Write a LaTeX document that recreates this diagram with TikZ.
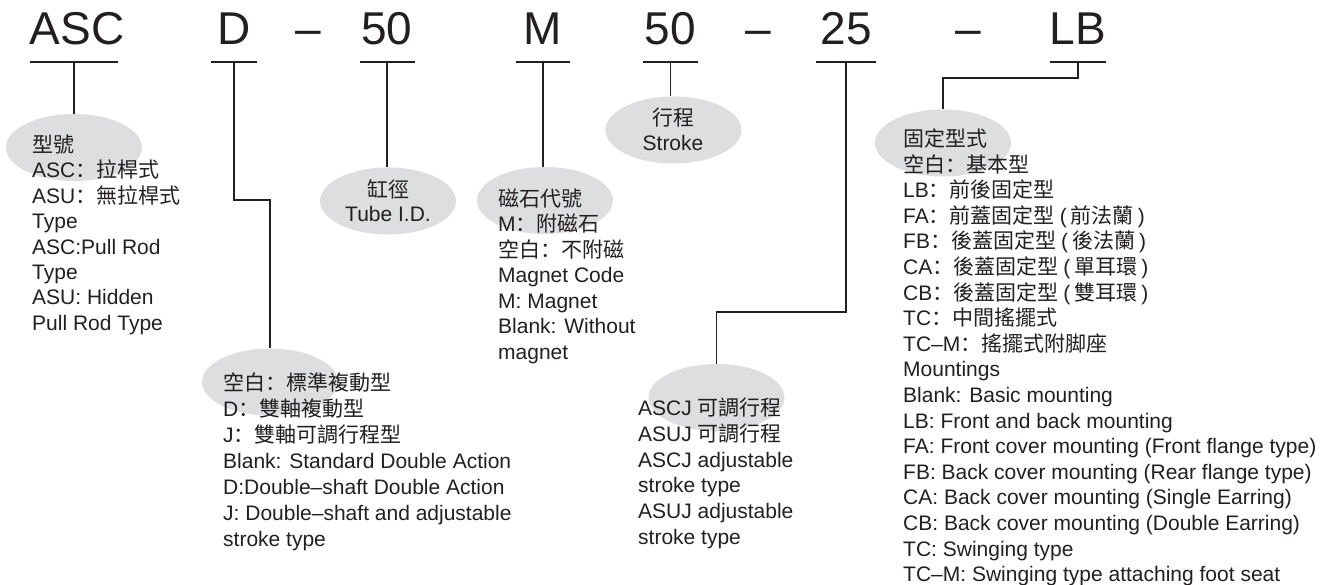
\documentclass[tikz,border=0pt]{standalone}
\usepackage{fontspec}
\setmainfont{Liberation Sans}
\newfontfamily\cjk{Noto Sans CJK TC}
\newfontfamily\cjksc{Noto Sans CJK SC}
\usetikzlibrary{shapes.geometric}
\definecolor{ink}{RGB}{35,31,32}
\definecolor{ellfill}{RGB}{221,222,223}
\newcommand\opar{\hspace{5pt}(\hspace{4pt}}
\newcommand\cpar{\hspace{4pt})}
\newcommand\fcol{{\cjksc ：}}
\begin{document}
\begin{tikzpicture}[x=1pt,y=-1pt,
  code/.style={font=\fontsize{46}{46}\selectfont, text=ink, inner sep=0, anchor=base},
  ul/.style={draw=ink, line width=1.8pt},
  conn/.style={draw=ink, line width=1.8pt},
  blob/.style={ellipse, fill=ellfill, draw=none, minimum width=136pt, minimum height=67pt, inner sep=0},
  txt/.style={font=\fontsize{21}{25.6}\selectfont, text=ink, inner sep=0, anchor=base west},
  ctxt/.style={font=\fontsize{21}{25.6}\selectfont, text=ink, inner sep=0, anchor=base},
]
\useasboundingbox (0,0) rectangle (1336,585);

% ellipses
\node[blob] (eASC) at (74,147.5) {};
\node[blob] (eD) at (270,382) {};
\node[blob] (e50) at (388,201) {};
\node[blob] (eM) at (545,200.5) {};
\node[blob] (e50b) at (673.5,130) {};
\node[blob] (e25) at (716.5,397.5) {};
\node[blob] (eLB) at (943,143) {};

% code letters
\node[code] (cASC) at (77,45) {ASC};
\node[code] (cD) at (234,45) {D};
\node[code] (dash1) at (308.5,45) {–};
\node[code] (c50) at (387,45) {50};
\node[code] (cM) at (543,45) {M};
\node[code] (c50b) at (670.5,45) {50};
\node[code] (dash2) at (758,45) {–};
\node[code] (c25) at (846,45) {25};
\node[code] (dash3) at (968.5,45) {–};
\node[code] (cLB) at (1078,45) {LB};

% underline centres
\coordinate (uASC) at (74,62);
\coordinate (uD) at (234,62);
\coordinate (u50) at (387,62);
\coordinate (uM) at (543,62);
\coordinate (u50b) at (670.5,62);
\coordinate (u25) at (846,62);
\coordinate (uLB) at (1078,62);

\draw[ul] ([xshift=-44pt]uASC) -- ([xshift=44pt]uASC);
\draw[ul] ([xshift=-23pt]uD) -- ([xshift=23pt]uD);
\draw[ul] ([xshift=-27.5pt]u50) -- ([xshift=27.5pt]u50);
\draw[ul] ([xshift=-27pt]uM) -- ([xshift=27pt]uM);
\draw[ul] ([xshift=-27.5pt]u50b) -- ([xshift=27.5pt]u50b);
\draw[ul] ([xshift=-30pt]u25) -- ([xshift=30pt]u25);
\draw[ul] ([xshift=-28pt]uLB) -- ([xshift=28pt]uLB);

% connectors
\draw[conn] (uASC) -- (uASC |- eASC.north);
\draw[conn] (uD) -- ++(0,138) -| (eD.north);
\draw[conn] (u50) -- (u50 |- e50.north);
\draw[conn] (uM) -- (uM |- eM.north);
\draw[conn] (u50b) -- (u50b |- e50b.north);
\draw[conn] (u25) -- ++(0,250) -| (e25.north);
\draw[conn] (uLB) -- ++(0,16) -| (eLB.north);

% texts
\foreach \s [count=\i] in {{\cjk 型號}, ASC\fcol{\cjk 拉桿式}, ASU\fcol{\cjk 無拉桿式}, Type, ASC:Pull Rod, Type, ASU: Hidden, Pull Rod Type}
  \node[txt] (tA\i) at ({32},{152.5+25.4*(\i-1)}) {\s};

\foreach \s [count=\i] in {{\cjk 空白}\fcol{\cjk 標準複動型}, D\fcol{\cjk 雙軸複動型}, J\fcol{\cjk 雙軸可調行程型}, Blank: Standard Double Action, D:Double–shaft Double Action, J: Double–shaft and adjustable, stroke type}
  \node[txt] (tD\i) at ({223},{390.5+26*(\i-1)}) {\s};

\node[ctxt] (t50a) at (388,197.5) {\cjk 缸徑};
\node[ctxt] (t50b) at (388,221.5) {Tube I.D.};

\foreach \s [count=\i] in {{\cjk 磁石代號}, M\fcol{\cjk 附磁石}, {\cjk 空白}\fcol{\cjk 不附磁}, Magnet Code, M: Magnet, Blank: Without, magnet}
  \node[txt] (tM\i) at ({498},{206.5+25.5*(\i-1)}) {\s};

\node[ctxt] (tSa) at (673,125.5) {\cjk 行程};
\node[ctxt] (tSb) at (673,150.5) {Stroke};

\foreach \s [count=\i] in {ASCJ {\cjk 可調行程}, ASUJ {\cjk 可調行程}, ASCJ adjustable, stroke type, ASUJ adjustable, stroke type}
  \node[txt] (tJ\i) at ({638},{415.5+25.8*(\i-1)}) {\s};

\foreach \s [count=\i] in {{\cjk 固定型式}, {\cjk 空白}\fcol{\cjk 基本型}, LB\fcol{\cjk 前後固定型}, FA\fcol{\cjk 前蓋固定型}\opar{\cjk 前法蘭}\cpar, FB\fcol{\cjk 後蓋固定型}\opar{\cjk 後法蘭}\cpar, CA\fcol{\cjk 後蓋固定型}\opar{\cjk 單耳環}\cpar, CB\fcol{\cjk 後蓋固定型}\opar{\cjk 雙耳環}\cpar, TC\fcol{\cjk 中間搖擺式}, TC–M\fcol{\cjk 搖擺式附脚座}, Mountings, Blank: Basic mounting, LB: Front and back mounting, FA: Front cover mounting (Front flange type), FB: Back cover mounting (Rear flange type), CA: Back cover mounting (Single Earring), CB: Back cover mounting (Double Earring), TC: Swinging type, TC–M: Swinging type attaching foot seat}
  \node[txt] (tL\i) at ({903},{146.5+25.6*(\i-1)}) {\s};
\end{tikzpicture}
\end{document}
